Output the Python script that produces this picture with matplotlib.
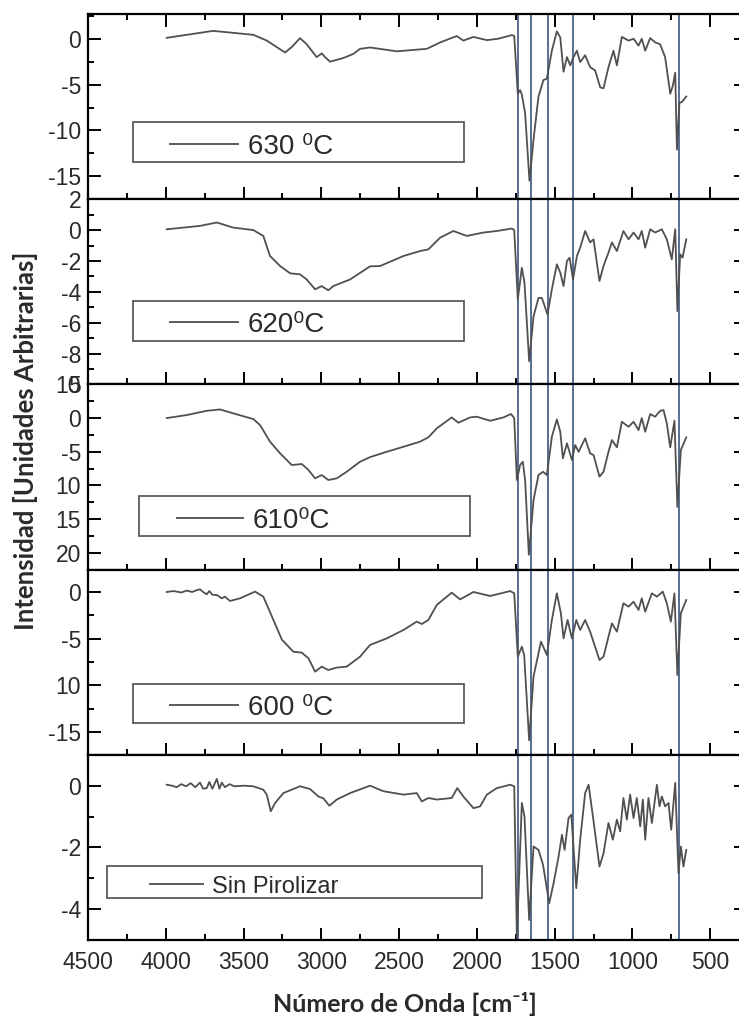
import matplotlib
matplotlib.use("Agg")
import matplotlib.pyplot as plt
from matplotlib.patches import Rectangle
from matplotlib.lines import Line2D
from matplotlib.ticker import MultipleLocator, FixedLocator, FixedFormatter

plt.rcParams["font.family"] = ["Liberation Sans", "DejaVu Sans"]

# ---- FTIR spectra (wavenumber in cm-1, intensity in arbitrary units) ----
wn_630 = [3994, 3696, 3437, 3351, 3233, 3190, 3137, 3094, 3030, 2997, 2976, 2944,
          2858, 2794, 2751, 2687, 2515, 2322, 2236, 2130, 2087, 2022, 1936, 1863,
          1775, 1760, 1737, 1722, 1711, 1690, 1662, 1636, 1604, 1572, 1550, 1518,
          1486, 1464, 1443, 1421, 1400, 1379, 1357, 1336, 1304, 1272, 1240, 1207,
          1186, 1154, 1122, 1100, 1068, 1025, 993, 961, 940, 918, 886, 854, 822,
          790, 757, 740, 725, 714, 698, 682, 654]
int_630 = [0.1, 0.86, 0.43, -0.2, -1.5, -0.9, 0.07, -0.6, -2.0, -1.6, -2.0, -2.5,
           -2.1, -1.65, -1.1, -0.95, -1.37, -1.1, -0.4, 0.3, -0.2, 0.2, -0.15, 0.0,
           0.4, 0.3, -6.0, -5.6, -6.1, -8.1, -15.5, -11.0, -6.3, -4.5, -4.35, -1.3,
           0.8, 0.14, -3.6, -2.0, -2.9, -2.0, -1.3, -2.55, -1.8, -3.1, -3.45, -5.3,
           -5.4, -3.1, -1.3, -2.9, 0.2, -0.2, 0.0, -0.75, 0.0, -1.3, 0.07, -0.4, -0.6,
           -2.0, -6.0, -5.1, -3.7, -12.1, -7.0, -6.9, -6.3]

wn_620 = [3994, 3780, 3672, 3566, 3437, 3373, 3330, 3265, 3201, 3137, 3094, 3040,
          2998, 2955, 2923, 2815, 2687, 2622, 2472, 2365, 2312, 2236, 2151, 2065,
          1958, 1872, 1775, 1760, 1737, 1711, 1694, 1664, 1636, 1604, 1582, 1546,
          1518, 1486, 1464, 1443, 1421, 1404, 1382, 1357, 1336, 1304, 1272, 1250,
          1212, 1186, 1154, 1132, 1100, 1058, 1025, 993, 961, 940, 918, 886, 854,
          811, 779, 747, 725, 711, 693, 678, 654]
int_620 = [0.05, 0.27, 0.49, 0.16, 0.0, -0.38, -1.68, -2.33, -2.8, -2.87, -3.2, -3.84,
           -3.63, -3.9, -3.63, -3.2, -2.35, -2.33, -1.68, -1.36, -1.25, -0.49, -0.06, -0.38,
           -0.16, -0.06, 0.1, 0.0, -4.5, -2.44, -3.4, -8.5, -5.6, -4.4, -4.4, -5.47,
           -3.84, -2.22, -2.76, -3.63, -2.0, -1.79, -3.2, -1.68, -1.14, -0.06, -0.8, -0.6,
           -3.3, -2.33, -1.46, -0.8, -1.36, -0.06, -0.6, -0.16, -0.6, -0.06, -1.14, 0.05, -0.16,
           0.05, -0.6, -1.9, 0.05, -5.25, -1.57, -1.79, -0.6]

wn_610 = [3994, 3865, 3737, 3651, 3566, 3437, 3394, 3330, 3265, 3190, 3126, 3083,
          3040, 2998, 2955, 2901, 2837, 2751, 2687, 2579, 2472, 2365, 2312, 2258,
          2162, 2119, 2043, 2001, 1915, 1829, 1781, 1760, 1743, 1722, 1705, 1690,
          1666, 1636, 1604, 1575, 1550, 1518, 1486, 1464, 1447, 1421, 1389, 1368,
          1346, 1304, 1272, 1250, 1212, 1186, 1154, 1132, 1100, 1068, 1025, 993,
          961, 940, 918, 886, 854, 822, 800, 779, 757, 730, 711, 689, 654]
int_610 = [0.0, 0.45, 1.08, 1.28, 0.7, -0.15, -1.04, -3.5, -5.24, -6.97, -6.82, -7.7,
           -8.95, -8.46, -9.2, -8.95, -7.97, -6.48, -5.8, -5.0, -4.26, -3.5, -2.86, -1.53,
           0.1, -0.69, 0.1, 0.2, -0.4, 0.1, 0.6, 0.0, -9.2, -6.97, -6.48, -9.2,
           -20.3, -12.2, -8.46, -7.97, -8.46, -2.77, -0.2, -2.03, -5.98, -3.75, -6.23, -4.0,
           -5.0, -3.0, -5.24, -5.49, -8.7, -7.97, -5.0, -3.26, -4.35, -0.55, -1.29, -0.55,
           -1.78, 0.0, -2.03, 0.6, 0.2, 1.08, 1.18, -0.8, -4.35, -0.4, -13.2, -4.75, -2.86]

wn_600 = [3994, 3950, 3900, 3865, 3830, 3800, 3780, 3760, 3737, 3720, 3700, 3672,
          3640, 3620, 3587, 3523, 3426, 3373, 3308, 3254, 3180, 3126, 3083, 3040,
          2998, 2955, 2901, 2837, 2751, 2687, 2579, 2472, 2387, 2354, 2312, 2258,
          2162, 2108, 2022, 1915, 1786, 1760, 1737, 1711, 1696, 1664, 1636, 1588,
          1550, 1518, 1486, 1460, 1443, 1417, 1389, 1361, 1336, 1304, 1272, 1212,
          1186, 1154, 1132, 1100, 1058, 1025, 993, 961, 940, 918, 875, 843, 805,
          779, 753, 730, 711, 689, 654]
int_600 = [0.0, 0.1, -0.05, 0.15, 0.0, 0.2, 0.29, 0.0, -0.25, 0.1, -0.3, -0.32,
           -0.68, -0.5, -0.96, -0.68, 0.04, -0.5, -3.0, -5.1, -6.4, -6.5, -7.1, -8.54,
           -8.0, -8.36, -8.1, -8.0, -6.93, -5.68, -4.97, -4.07, -3.18, -3.43, -3.0, -1.39,
           -0.07, -0.79, 0.0, -0.43, 0.1, -0.14, -6.93, -5.86, -6.75, -15.9, -9.07, -5.32,
           -6.75, -3.0, -0.14, -2.28, -4.97, -3.0, -4.97, -3.0, -4.07, -3.0, -4.25, -7.29,
           -6.93, -4.79, -3.36, -4.25, -1.21, -1.57, -1.04, -1.93, -0.68, -2.11, -0.14, -0.5, 0.04,
           -1.21, -3.18, -0.14, -8.9, -2.28, -0.86]

wn_raw = [3994, 3960, 3930, 3900, 3870, 3840, 3810, 3780, 3760, 3737, 3720, 3700,
          3672, 3655, 3640, 3620, 3590, 3560, 3500, 3437, 3373, 3351, 3325, 3297,
          3244, 3137, 3072, 3019, 2987, 2948, 2901, 2815, 2687, 2601, 2472, 2387,
          2354, 2312, 2258, 2162, 2126, 2087, 2022, 1979, 1936, 1872, 1786, 1760,
          1743, 1711, 1694, 1664, 1636, 1604, 1575, 1535, 1507, 1475, 1453, 1436,
          1411, 1393, 1361, 1336, 1304, 1282, 1254, 1212, 1186, 1154, 1126, 1100,
          1079, 1058, 1036, 1015, 993, 972, 950, 933, 918, 897, 875, 843, 826,
          811, 790, 768, 751, 725, 704, 689, 672, 654]
int_raw = [0.03, 0.0, -0.05, 0.05, -0.02, 0.08, -0.05, 0.1, -0.1, -0.08, 0.12, -0.1,
           0.22, -0.1, 0.1, -0.05, 0.05, -0.02, 0.0, -0.02, -0.13, -0.29, -0.83, -0.56,
           -0.24, -0.02, -0.11, -0.35, -0.41, -0.65, -0.45, -0.24, 0.0, -0.18, -0.29, -0.24,
           -0.51, -0.4, -0.45, -0.4, -0.08, -0.35, -0.73, -0.67, -0.29, -0.08, 0.03, -0.02,
           -4.9, -0.56, -1.0, -4.35, -1.97, -2.08, -2.56, -3.81, -3.16, -2.3, -1.59, -2.08,
           -1.05, -0.94, -3.32, -1.75, -0.24, 0.03, -1.0, -2.62, -2.19, -1.21, -1.75, -1.1,
           -1.48, -0.4, -1.1, -0.29, -1.05, -0.4, -1.32, -0.45, -1.75, -0.4, -1.21, 0.03, -0.67,
           -0.35, -0.67, -0.56, -1.43, 0.09, -2.84, -1.97, -2.62, -2.08]

# band markers (cm-1)
band_positions = [1735, 1655, 1545, 1380, 700]

# panel titles and y-axis tick labels
labels = ["630 \u2070C", "620\u2070C", "610\u2070C", "600 \u2070C", "Sin Pirolizar"]
y_limits = [(-17.5, 2.7), (-10, 2), (-22.5, 5), (-17.45, 2.4), (-5, 1)]
y_ticks = [[0, -5, -10, -15], [2, 0, -2, -4, -6, -8, -10], [5, 0, -5, -10, -15, -20],
           [0, -5, -10, -15], [0, -2, -4]]
y_ticklabels = [["0", "-5", "-10", "-15"], ["2", "0", "-2", "-4", "-6", "-8", "10"],
                ["5", "0", "-5", "10", "15", "20"], ["0", "-5", "10", "-15"],
                ["0", "-2", "-4"]]
y_minor = [2.5, 1, 2.5, 2.5, 1]
x_ticks = [4500, 4000, 3500, 3000, 2500, 2000, 1500, 1000, 500]

spectra = [(wn_630, int_630), (wn_620, int_620), (wn_610, int_610),
           (wn_600, int_600), (wn_raw, int_raw)]

# legend box layout in axes fraction: box x0, x1, y0, y1, line x0, x1, line y, text x, size
legend_layout = [
    (0.0684, 0.5714, 0.201, 0.417, 0.1246, 0.228, 0.298, 0.2432, 20),
    (0.0684, 0.5714, 0.234, 0.450, 0.1246, 0.228, 0.337, 0.2432, 20),
    (0.0775, 0.5805, 0.181, 0.397, 0.1353, 0.2356, 0.279, 0.2508, 20),
    (0.0684, 0.5714, 0.172, 0.382, 0.1246, 0.228, 0.269, 0.2432, 20),
    (0.0289, 0.5988, 0.227, 0.400, 0.0942, 0.1748, 0.302, 0.1884, 17),
]

W, H = 739, 1017
fig = plt.figure(figsize=(W / 100, H / 100), dpi=100)
left_px, right_px, top_px, bottom_px = 88, 746, 14, 940
ph = (bottom_px - top_px) / 5

curve_color = "#505050"
band_color = "#3a5683"

for i in range(5):
    y0 = 1 - (top_px + (i + 1) * ph) / H
    ax = fig.add_axes([left_px / W, y0, (right_px - left_px) / W, ph / H])
    wn, inten = spectra[i]
    for b in band_positions:
        ax.axvline(b, color=band_color, lw=1.2, zorder=1)
    ax.plot(wn, inten, color=curve_color, lw=1.3, zorder=2)

    ax.set_xlim(4500, 270)
    ax.set_ylim(*y_limits[i])
    ax.xaxis.set_major_locator(FixedLocator(x_ticks))
    ax.xaxis.set_minor_locator(MultipleLocator(250))
    ax.yaxis.set_major_locator(FixedLocator(y_ticks[i]))
    ax.yaxis.set_major_formatter(FixedFormatter(y_ticklabels[i]))
    ax.yaxis.set_minor_locator(MultipleLocator(y_minor[i]))

    ax.tick_params(which="both", direction="in", right=True, top=(i == 0),
                   width=1.4, colors="black", labelcolor="#2a2a2a")
    ax.tick_params(which="major", length=9)
    ax.tick_params(which="minor", length=4.5)
    ax.tick_params(axis="y", labelsize=16.5, pad=5)
    ax.tick_params(axis="x", labelsize=16.5, pad=8)
    if i < 4:
        ax.tick_params(axis="x", labelbottom=False)
    for s in ax.spines.values():
        s.set_linewidth(1.6)

    bx0, bx1, by0, by1, lx0, lx1, ly, tx, fs = legend_layout[i]
    ax.add_patch(Rectangle((bx0, by0), bx1 - bx0, by1 - by0, transform=ax.transAxes,
                           facecolor="white", edgecolor="#5a5a5a", lw=1.3, zorder=3))
    ax.add_line(Line2D([lx0, lx1], [ly, ly], transform=ax.transAxes,
                       color="#5a5a5a", lw=1.4, zorder=4))
    ax.text(tx, ly, labels[i], transform=ax.transAxes, fontsize=fs,
            va="center_baseline", ha="left", color="#2a2a2a", zorder=4)

fig.text(405 / W, 1 - 1004 / H, "N\u00famero de Onda [cm\u207b\u00b9]",
         family=["Lato", "DejaVu Sans"], fontweight="bold", fontsize=18,
         ha="center", va="center", color="#2a2a2a")
fig.text(26 / W, 1 - 441 / H, "Intensidad [Unidades Arbitrarias]",
         family=["Lato", "DejaVu Sans"], fontweight="bold", fontsize=18.5,
         rotation=90, ha="center", va="center", color="#2a2a2a")

fig.savefig("out.png", dpi=100)
